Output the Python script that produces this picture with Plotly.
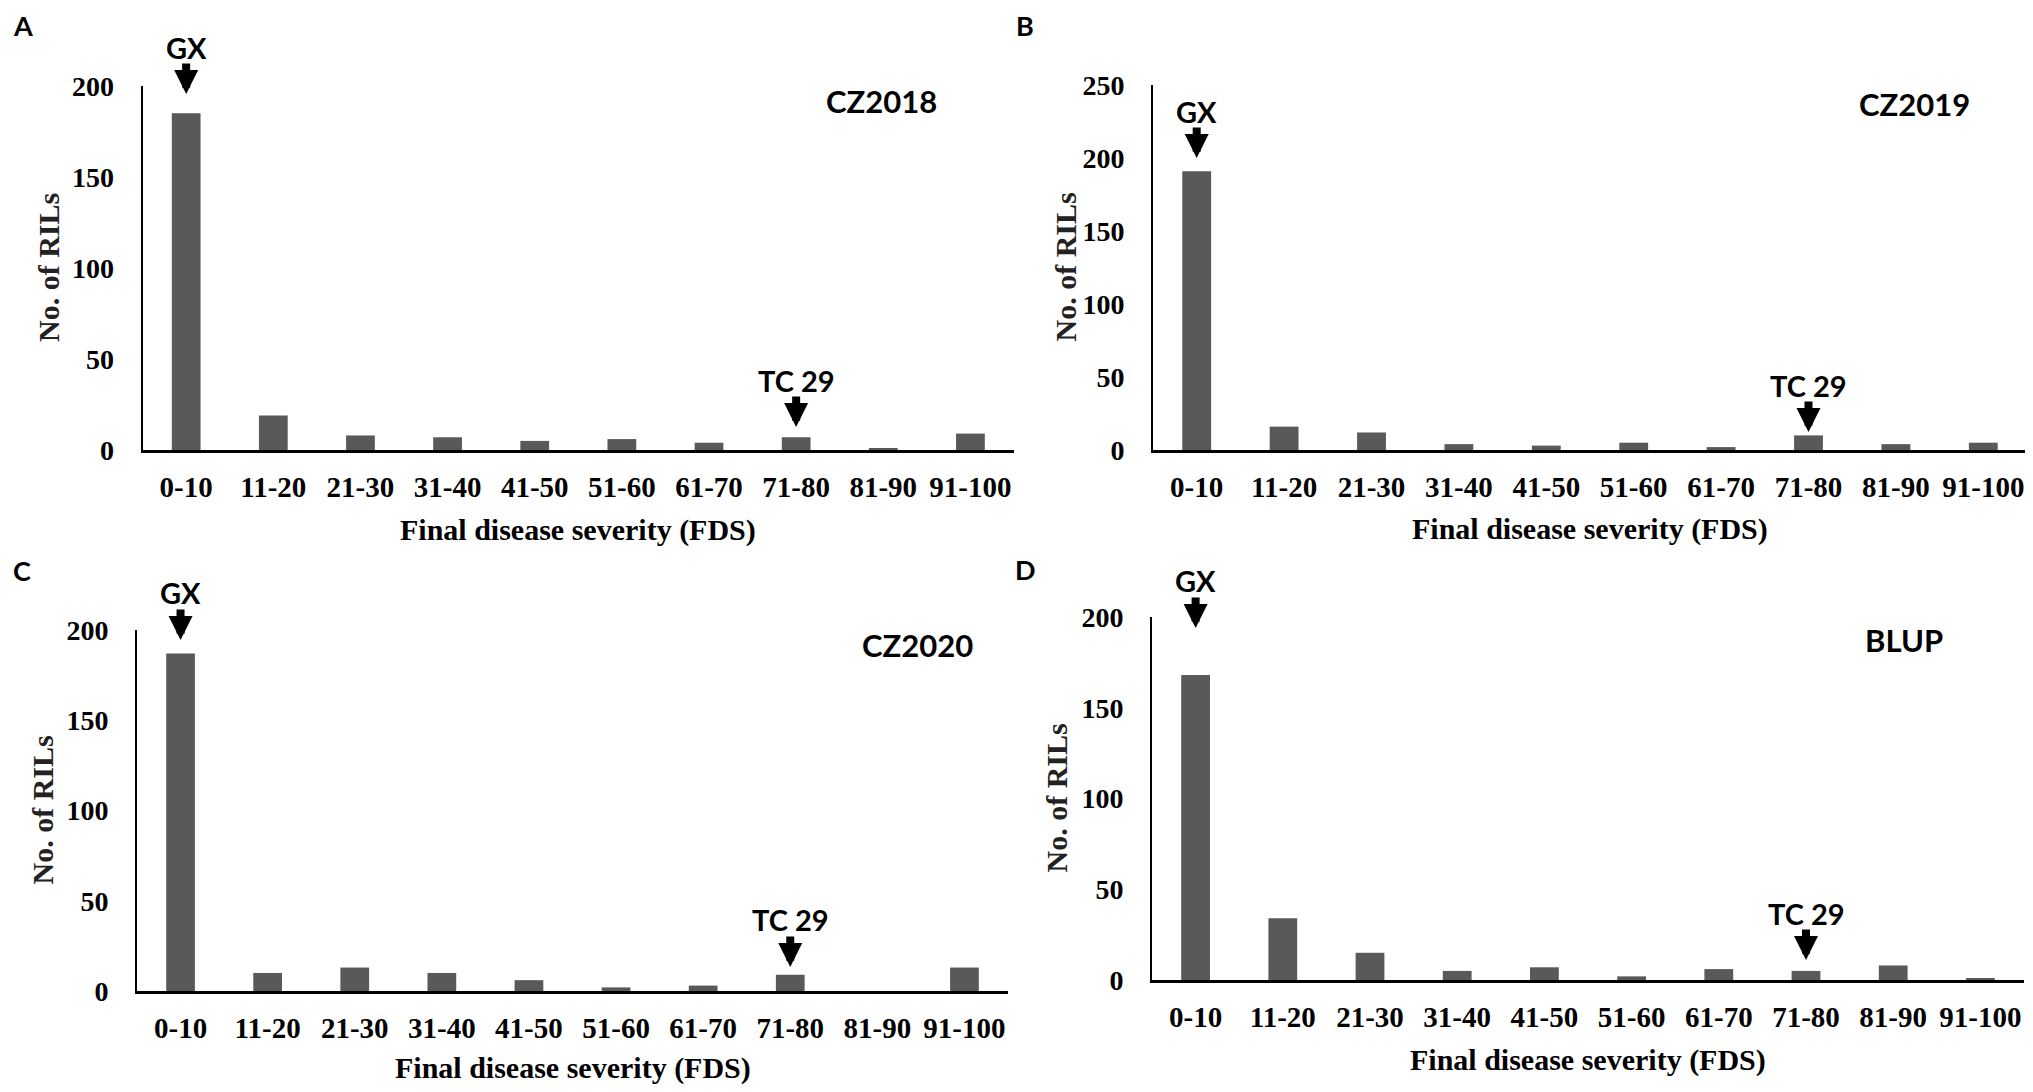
import plotly.graph_objects as go
from plotly.subplots import make_subplots

# FDS classes and number of RILs per class
categories = ["0-10", "11-20", "21-30", "31-40", "41-50",
              "51-60", "61-70", "71-80", "81-90", "91-100"]
cz2018 = [185, 19, 8, 7, 5, 6, 4, 7, 1, 9]
cz2019 = [191, 16, 12, 4, 3, 5, 2, 10, 4, 5]
cz2020 = [187, 10, 13, 10, 6, 2, 3, 9, 0, 13]
blup = [168, 34, 15, 5, 7, 2, 6, 5, 8, 1]

panel_letters = ["A", "B", "C", "D"]
panel_titles = ["CZ2018", "CZ2019", "CZ2020", "BLUP"]
series = [cz2018, cz2019, cz2020, blup]
y_max = [200, 250, 200, 200]
gx_tip = [195.6, 200, 194.5, 194]
tc_tip = [12.6, 12.3, 13.3, 11]

W, H = 2033, 1092
OFF = 8  # page body margin in the browser
FW, FH = W - OFF, H - OFF
bar_color = "#595959"
serif = "Liberation Serif, Times New Roman, serif"
sans = "Lato, Calibri, Arial, sans-serif"

# plot boxes in screen pixels: left, right, top, bottom
boxes = [(142.6, 1014, 86, 450), (1153, 2027, 85, 450),
         (137, 1008, 630, 991), (1152, 2024, 617, 980)]
title_pos = [(881, 101), (1914, 104), (917, 645), (1904, 640)]
letter_pos = [(11, 26), (1014, 26), (11, 570), (1013, 569)]
ytitle_x = [49, 1065, 42, 1056]
xtitle_y = [530, 529, 1068, 1060]


def fx(p):
    return (p - OFF) / FW


def fy(p):
    return 1 - (p - OFF) / FH


def paper_text(x, y, text, font, **kw):
    d = dict(x=fx(x), y=fy(y), xref="paper", yref="paper", text=text, showarrow=False,
             xanchor="center", yanchor="middle", font=font)
    d.update(kw)
    return d


fig = make_subplots(rows=2, cols=2)
annotations = []

for i, vals in enumerate(series):
    r, c = i // 2 + 1, i % 2 + 1
    fig.add_trace(go.Bar(x=categories, y=vals, marker_color=bar_color,
                         marker_line_width=0, showlegend=False), row=r, col=c)
    left, right, top, bottom = boxes[i]
    sfx = "" if i == 0 else str(i + 1)
    fig.layout["xaxis" + sfx].update(
        domain=[fx(left), fx(right)], showline=True, linecolor="black", linewidth=3,
        showgrid=False, zeroline=False, ticks="", ticklabelstandoff=9, automargin=False,
        tickfont=dict(family=serif, size=29, color="black", weight="bold"),
        range=[-0.5, 9.5])
    fig.layout["yaxis" + sfx].update(
        domain=[fy(bottom), fy(top)], range=[0, y_max[i]], dtick=50, automargin=False,
        showline=True, linecolor="black", linewidth=2, showgrid=False,
        zeroline=False, ticks="", ticklabelstandoff=21,
        tickfont=dict(family=serif, size=28, color="black", weight="bold"))

    xr, yr = "x" + sfx, "y" + sfx
    for label, cat, tip in (("GX", categories[0], gx_tip[i]), ("TC 29", categories[7], tc_tip[i])):
        annotations.append(dict(x=cat, y=tip, xref=xr, yref=yr, text="", showarrow=True,
                                arrowhead=2, arrowsize=0.6, arrowwidth=8, arrowcolor="black",
                                ax=0, ay=-32))
        annotations.append(dict(x=cat, y=tip, xref=xr, yref=yr, text=label, showarrow=False,
                                xanchor="center", yanchor="middle", yshift=47,
                                font=dict(family=sans, size=29, color="black", weight="bold")))

    tx, ty = title_pos[i]
    annotations.append(paper_text(tx, ty, panel_titles[i],
                                  dict(family=sans, size=31, color="black", weight="bold")))
    lx, ly = letter_pos[i]
    annotations.append(paper_text(lx, ly, panel_letters[i],
                                  dict(family=sans, size=27, color="black", weight="bold"),
                                  xanchor="left"))
    annotations.append(paper_text(ytitle_x[i], (top + bottom) / 2, "No. of RILs",
                                  dict(family=serif, size=30, color="#222222", weight="bold"),
                                  textangle=-90))
    annotations.append(paper_text((left + right) / 2, xtitle_y[i], "Final disease severity (FDS)",
                                  dict(family=serif, size=30, color="black", weight="bold")))

fig.update_layout(width=FW, height=FH, margin=dict(l=0, r=0, t=0, b=0),
                  plot_bgcolor="white", paper_bgcolor="white", bargap=0.67,
                  annotations=annotations)

fig.write_html("out.html")
